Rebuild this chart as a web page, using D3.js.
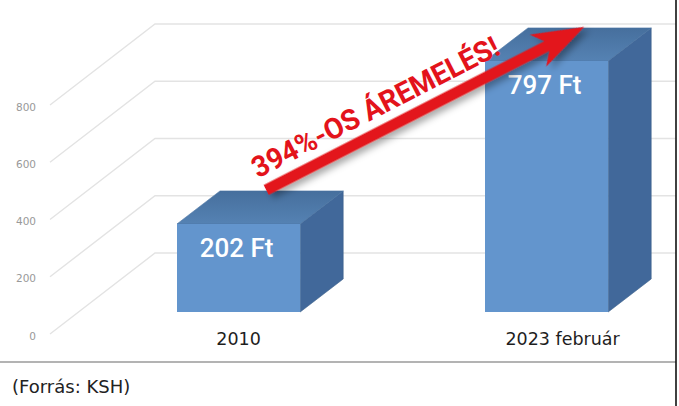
<!DOCTYPE html>
<html>
<head>
<meta charset="utf-8">
<script src="https://cdn.jsdelivr.net/npm/d3@7"></script>
<style>
  html, body { margin: 0; padding: 0; background: #fff; }
  svg { display: block; }
</style>
</head>
<body>
<div id="chart"></div>
<script>
let categories = ["2010", "2023 február"];
let prices = [202, 797];
let valueLabels = ["202 Ft", "797 Ft"];
let yTicks = [0, 200, 400, 600, 800];
let arrowText = "394%-OS ÁREMELÉS!";
let source = "(Forrás: KSH)";

let width = 679;
let height = 406;
let floorY = 312;
let depth = {dx: 43, dy: -33};

let svg = d3.select("#chart").append("svg")
    .attr("width", width)
    .attr("height", height);

let defs = svg.append("defs");
defs.append("filter")
    .attr("id", "shadow")
    .attr("x", "-20%").attr("y", "-20%")
    .attr("width", "140%").attr("height", "160%")
  .append("feDropShadow")
    .attr("dx", 3).attr("dy", 5)
    .attr("stdDeviation", 3.5)
    .attr("flood-color", "#000")
    .attr("flood-opacity", 0.35);

let topGrad = defs.append("linearGradient")
    .attr("id", "topface").attr("x1", 0).attr("y1", 1).attr("x2", 0).attr("y2", 0);
topGrad.append("stop").attr("offset", "0%").attr("stop-color", "#5582b3");
topGrad.append("stop").attr("offset", "100%").attr("stop-color", "#466f9d");

// scales
let x = d3.scaleBand()
    .domain(categories)
    .range([84.6, 700.6])
    .paddingInner(0.6)
    .paddingOuter(0.3);

let yWall = d3.scaleLinear().domain([0, 800]).range([253, 24]);
let yBar = d3.scaleLinear().domain([0, 800]).range([279.3, 60.1]);

// back wall grid (diagonal side wall + horizontal back wall)
let grid = svg.append("g")
    .attr("fill", "none")
    .attr("stroke", "#e3e3e3")
    .attr("stroke-width", 1.4);

grid.selectAll("path")
    .data(yTicks)
    .join("path")
      .attr("d", d => `M50,${yWall(d) + 81}L155,${yWall(d)}L676,${yWall(d)}`);

svg.append("g")
    .style("font", "10.5px 'DejaVu Sans', sans-serif")
    .attr("fill", "#999")
    .attr("text-anchor", "end")
  .selectAll("text")
  .data(yTicks)
  .join("text")
    .attr("x", 36)
    .attr("y", d => yWall(d) + 83)
    .attr("dy", "0.35em")
    .text(d => d);

// 3d bars
let bw = x.bandwidth();
let bars = svg.append("g")
  .selectAll("g")
  .data(categories.map((c, i) => ({c: c, v: prices[i], label: valueLabels[i]})))
  .join("g");

bars.append("path")
    .attr("fill", "#41689a")
    .attr("stroke", "#3b5f8a")
    .attr("stroke-width", 0.6)
    .attr("d", d => {
        let x1 = x(d.c) + bw, yt = yBar(d.v);
        return `M${x1},${yt}L${x1 + depth.dx},${yt + depth.dy}L${x1 + depth.dx},${floorY + depth.dy}L${x1},${floorY}Z`;
    });

bars.append("path")
    .attr("fill", "url(#topface)")
    .attr("stroke", "#4a74a3")
    .attr("stroke-width", 0.6)
    .attr("d", d => {
        let x0 = x(d.c), x1 = x0 + bw, yt = yBar(d.v);
        return `M${x0},${yt}L${x0 + depth.dx},${yt + depth.dy}L${x1 + depth.dx},${yt + depth.dy}L${x1},${yt}Z`;
    });

bars.append("rect")
    .attr("x", d => x(d.c))
    .attr("y", d => yBar(d.v))
    .attr("width", bw)
    .attr("height", d => floorY - yBar(d.v))
    .attr("fill", "#6395cd");

bars.append("text")
    .attr("x", d => x(d.c) + bw / 2 - 2)
    .attr("y", d => yBar(d.v) + 33)
    .attr("text-anchor", "middle")
    .attr("fill", "#fff")
    .style("font", "500 26px Roboto, sans-serif")
    .text(d => d.label);

// category labels
svg.append("g")
    .style("font", "17.5px 'DejaVu Sans', sans-serif")
    .attr("fill", "#1e1e1e")
    .attr("text-anchor", "middle")
  .selectAll("text")
  .data(categories)
  .join("text")
    .attr("x", (d, i) => x(d) + bw / 2 + i * 16)
    .attr("y", 345)
    .text(d => d);

// arrow annotation
let start = [x(categories[0]) + bw - 34, yBar(prices[0]) - 34];
let end = [x(categories[1]) + bw - 24, yBar(prices[1]) - 34];
let len = Math.hypot(end[0] - start[0], end[1] - start[1]);
let angle = Math.atan2(end[1] - start[1], end[0] - start[0]) * 180 / Math.PI;

let arrow = svg.append("g")
    .attr("transform", `translate(${start[0]},${start[1]}) rotate(${angle})`);

let hw = 5.5;
arrow.append("path")
    .attr("fill", "#e3131b")
    .attr("filter", "url(#shadow)")
    .attr("d", `M0,${-hw}L${len - 42},${-hw}L${len - 52},-18L${len},0L${len - 52},18L${len - 42},${hw}L0,${hw}Z`);

arrow.append("text")
    .attr("x", -2)
    .attr("y", -14)
    .attr("fill", "#e3131b")
    .attr("textLength", 274)
    .attr("lengthAdjust", "spacingAndGlyphs")
    .style("font", "bold 29px Roboto, sans-serif")
    .text(arrowText);

// frame and source
svg.append("line")
    .attr("x1", 0).attr("x2", 676)
    .attr("y1", 362).attr("y2", 362)
    .attr("stroke", "#9a9a9a")
    .attr("stroke-width", 1.5);

svg.append("line")
    .attr("x1", 676).attr("x2", 676)
    .attr("y1", 0).attr("y2", height)
    .attr("stroke", "#111")
    .attr("stroke-width", 1.6);

svg.append("text")
    .attr("x", 12)
    .attr("y", 393)
    .attr("fill", "#222")
    .style("font", "18px 'DejaVu Sans', sans-serif")
    .text(source);
</script>
</body>
</html>
